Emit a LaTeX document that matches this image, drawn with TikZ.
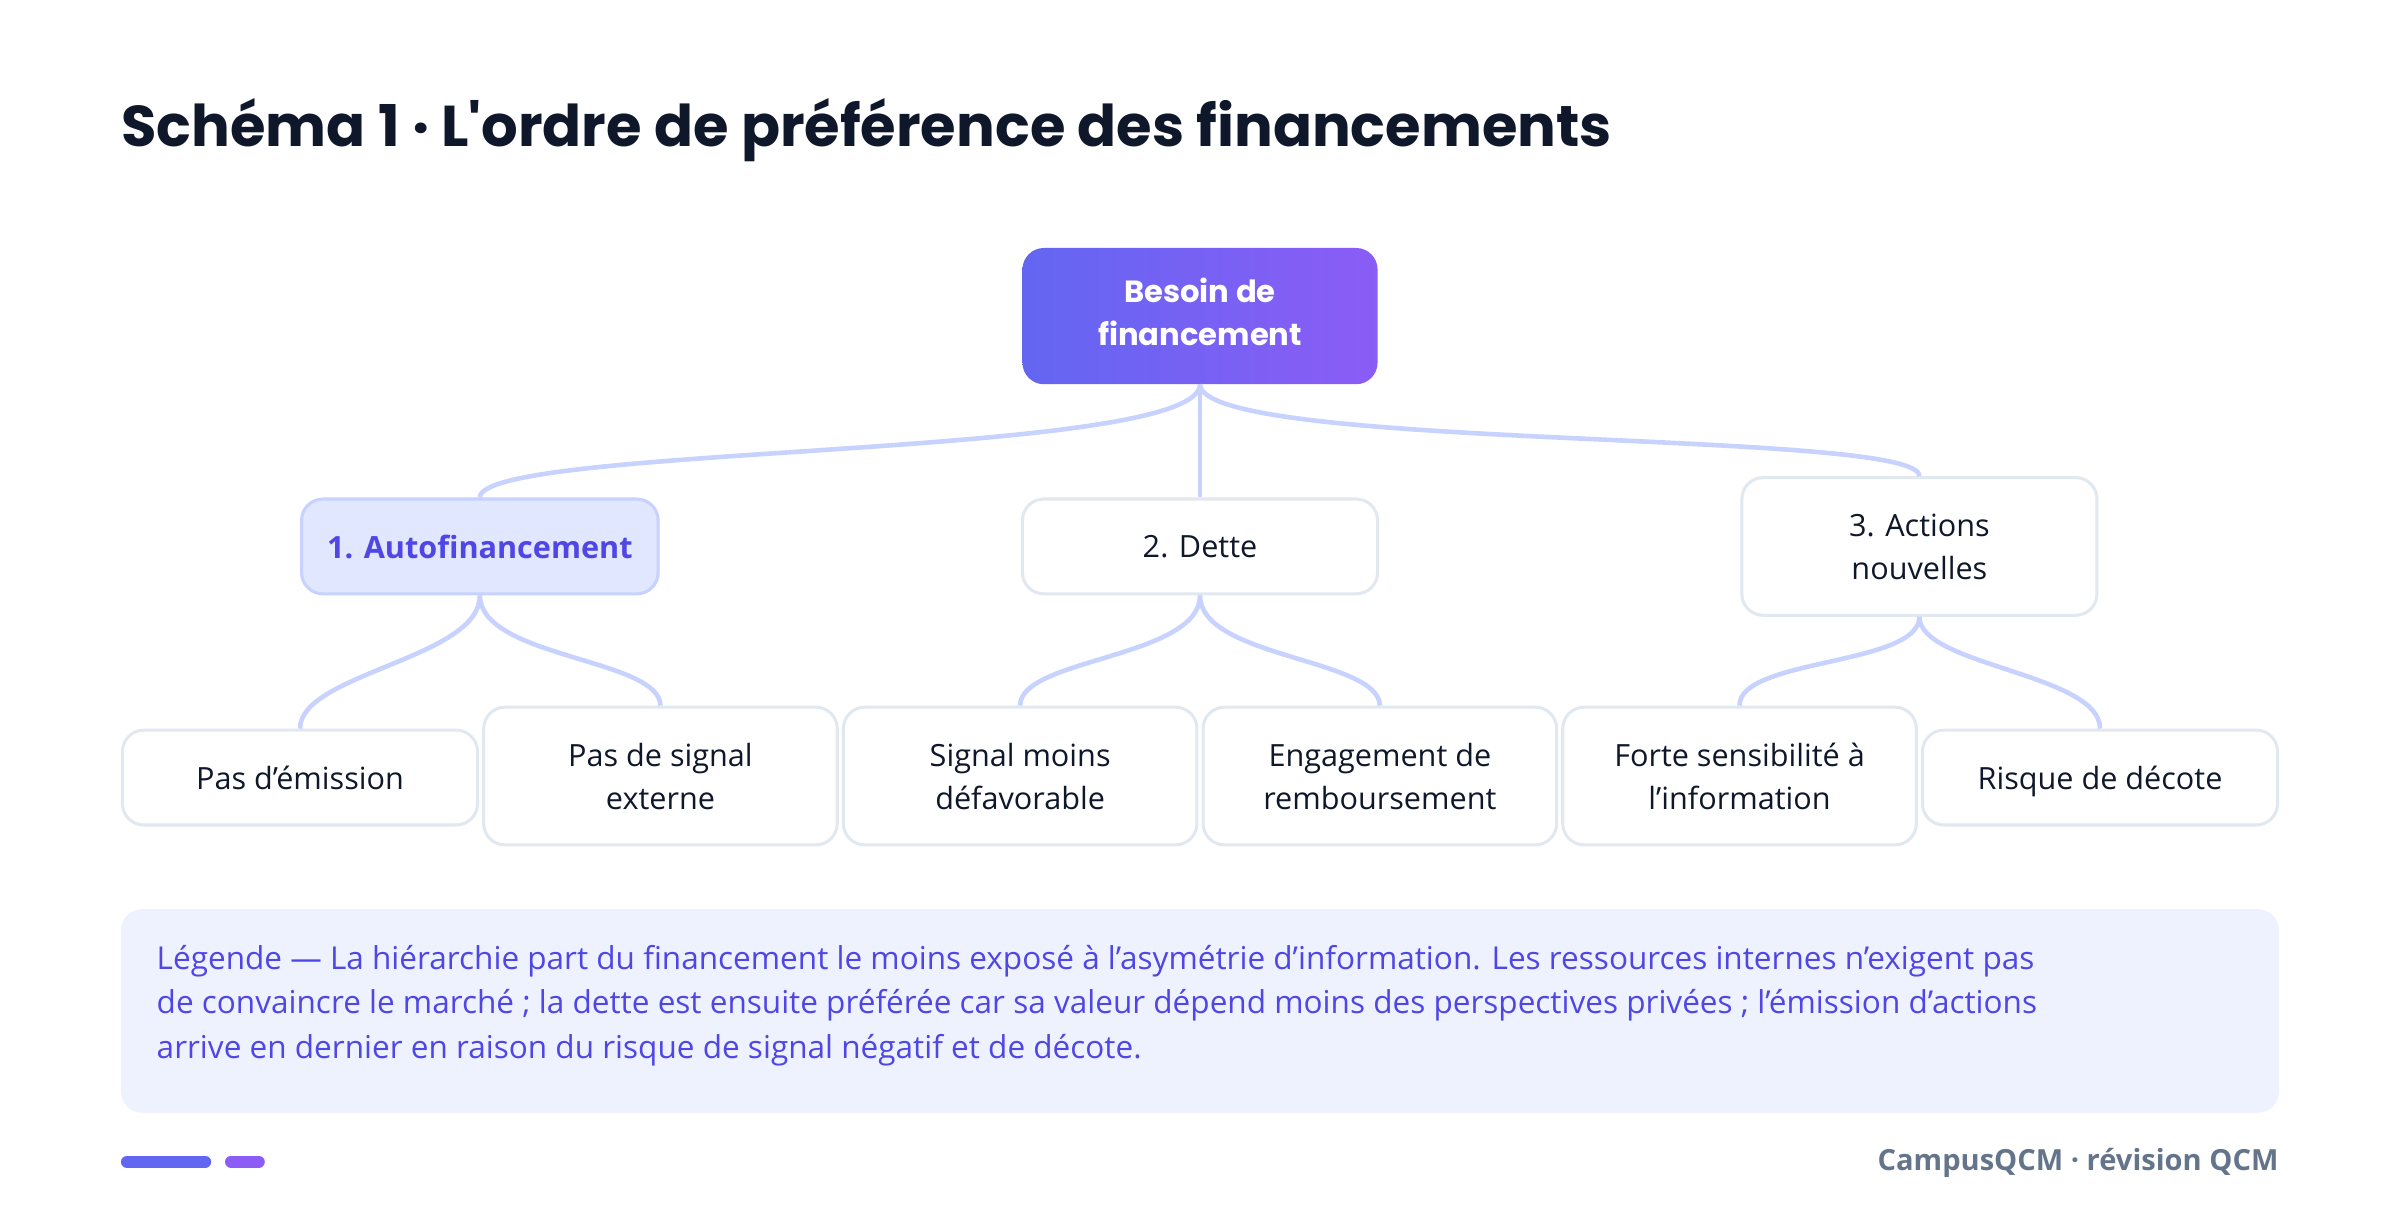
\documentclass[tikz,border=0pt]{standalone}
\usepackage{fontspec}
\setmainfont{Open Sans}[Ligatures=ResetAll]
\newfontfamily\titlefont{Poppins}[Ligatures=ResetAll]
\newcommand\ap{\char"27\relax}
\definecolor{line}{HTML}{E2E8F0}
\definecolor{conn}{HTML}{C7D2FE}
\definecolor{ink}{HTML}{0F172A}
\definecolor{indigo}{HTML}{4F46E5}
\definecolor{c1}{HTML}{6366F1}
\definecolor{c2}{HTML}{8B5CF6}
\definecolor{soft}{HTML}{E0E7FF}
\definecolor{legbg}{HTML}{EEF2FF}
\definecolor{gray}{HTML}{64748B}
\begin{document}
\begin{tikzpicture}[x=0.5pt,y=-0.5pt,
  box/.style={draw=line,line width=1pt,rounded corners=7pt,fill=white,align=center,font=\fontsize{10pt}{14pt}\selectfont,text=ink,inner sep=0pt,text depth=0pt},
  conn/.style={draw=conn,line width=1.5pt}]
\useasboundingbox (0,0) rectangle (1568,799);
\fill[white] (0,0) rectangle (1568,799);
\node[anchor=base west,font=\titlefont\bfseries\fontsize{18.8pt}{22pt}\selectfont,text=ink,inner sep=0] (title) at (79,96) {Schéma 1 · L\ap ordre de préférence des financements};
\shade[rounded corners=7pt,left color=c1,right color=c2] (668,162) rectangle (900,251);
\node[align=center,text=white,font=\titlefont\bfseries\fontsize{10pt}{14pt}\selectfont] (root) at (784,203.5) {Besoin de\\financement};
\coordinate (rootb) at (784,251);
\node[box,minimum width=116.5pt,minimum height=31pt,fill=soft,draw=conn,text=indigo,font=\bfseries\fontsize{10pt}{14pt}\selectfont] (a) at (313.5,357) {1. Autofinancement};
\node[box,minimum width=116pt,minimum height=31pt] (d) at (784,357) {2. Dette};
\node[box,minimum width=116pt,minimum height=45pt] (n) at (1254,357) {3. Actions\\nouvelles};
\node[box,minimum width=116pt,minimum height=31pt] (a1) at (196,508) {Pas d\ap émission};
\node[box,minimum width=115.5pt,minimum height=45pt] (a2) at (431.5,507) {Pas de signal\\externe};
\node[box,minimum width=115.5pt,minimum height=45pt] (d1) at (666.5,507) {Signal moins\\défavorable};
\node[box,minimum width=115.5pt,minimum height=45pt] (d2) at (901.5,507) {Engagement de\\remboursement};
\node[box,minimum width=115.5pt,minimum height=45pt] (n1) at (1136.5,507) {Forte sensibilité à\\l\ap information};
\node[box,minimum width=116pt,minimum height=31pt] (n2) at (1372,508) {Risque de décote};
\draw[conn] (rootb) .. controls (784,300) and (314,290) .. (a.north);
\draw[conn] (rootb) -- (d.north);
\draw[conn] (rootb) .. controls (784,295) and (1254,280) .. (n.north);
\draw[conn] (a.south) .. controls (314,430) and (196,440) .. (a1.north);
\draw[conn] (a.south) .. controls (314,430) and (431,430) .. (a2.north);
\draw[conn] (d.south) .. controls (784,430) and (666,430) .. (d1.north);
\draw[conn] (d.south) .. controls (784,430) and (901,430) .. (d2.north);
\draw[conn] (n.south) .. controls (1254,435) and (1136,430) .. (n1.north);
\draw[conn] (n.south) .. controls (1254,435) and (1372,440) .. (n2.north);
\fill[rounded corners=7pt,legbg] (79,594) rectangle (1489,727);
\node[anchor=north west,align=left,text=indigo,inner sep=0,font=\fontsize{10.3pt}{14.6pt}\selectfont] (leg) at (102,617) {Légende — La hiérarchie part du financement le moins exposé à l\ap asymétrie d\ap information. Les ressources internes n\ap exigent pas\\de convaincre le marché ; la dette est ensuite préférée car sa valeur dépend moins des perspectives privées ; l\ap émission d\ap actions\\arrive en dernier en raison du risque de signal négatif et de décote.};
\draw[line width=4pt,line cap=round,c1] (83,759) -- (134,759);
\draw[line width=4pt,line cap=round,c2] (151,759) -- (169,759);
\node[anchor=east,text=gray,font=\bfseries\fontsize{9.5pt}{12pt}\selectfont,inner sep=0] (foot) at (1489,760) {CampusQCM · révision QCM};
\end{tikzpicture}
\end{document}
